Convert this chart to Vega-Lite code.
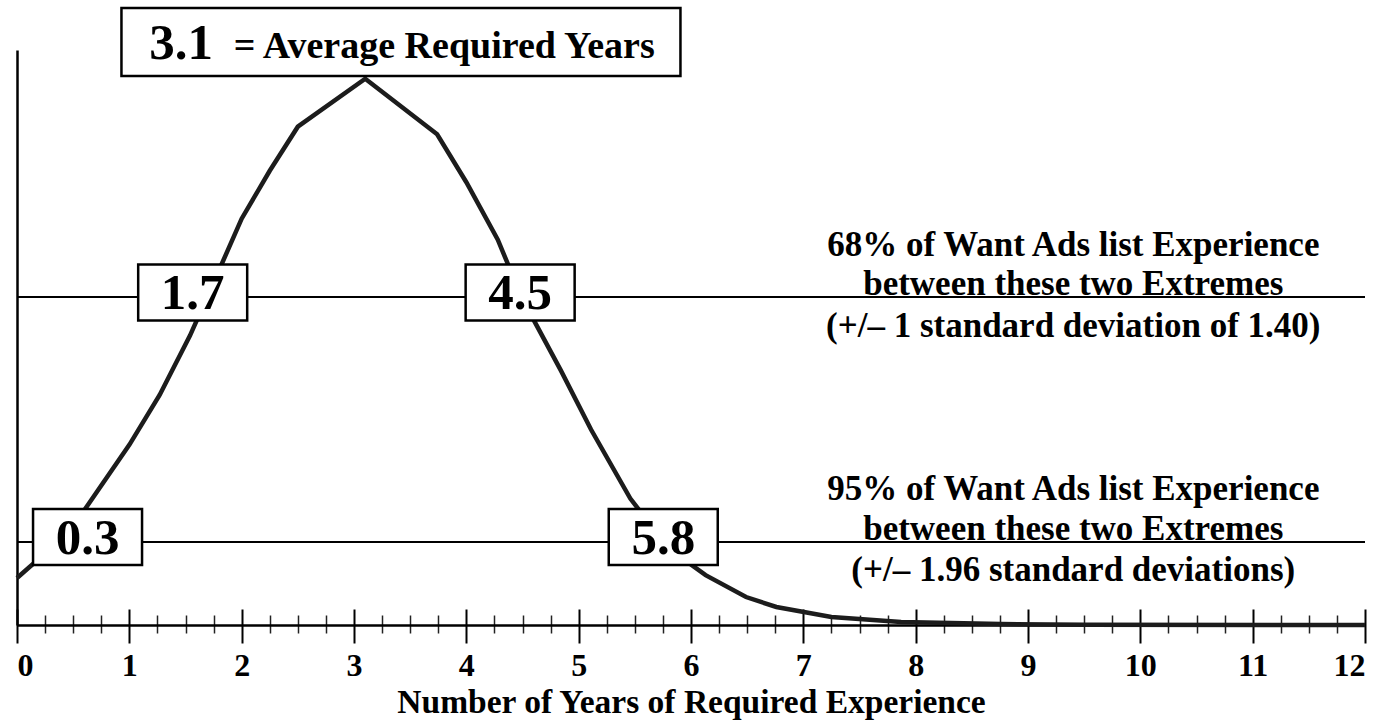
{
  "$schema": "https://vega.github.io/schema/vega-lite/v6.json",
  "width": 1348,
  "height": 575,
  "autosize": {"type": "none"},
  "padding": {"left": 17, "top": 50, "right": 33, "bottom": 96},
  "background": "white",
  "config": {
    "view": {"stroke": null},
    "font": "Liberation Serif",
    "axis": {"grid": false}
  },
  "datasets": {
    "curve": [
      {"years": 0, "density": 0.0245},
      {"years": 0.3, "density": 0.040},
      {"years": 0.6, "density": 0.060},
      {"years": 1.0, "density": 0.094},
      {"years": 1.27, "density": 0.120},
      {"years": 1.54, "density": 0.151},
      {"years": 1.76, "density": 0.180},
      {"years": 2.0, "density": 0.212},
      {"years": 2.25, "density": 0.237},
      {"years": 2.5, "density": 0.260},
      {"years": 3.1, "density": 0.285},
      {"years": 3.74, "density": 0.256},
      {"years": 4.0, "density": 0.231},
      {"years": 4.28, "density": 0.201},
      {"years": 4.5, "density": 0.170},
      {"years": 4.84, "density": 0.133},
      {"years": 5.11, "density": 0.102},
      {"years": 5.46, "density": 0.066},
      {"years": 5.8, "density": 0.040},
      {"years": 6.13, "density": 0.026},
      {"years": 6.49, "density": 0.0146},
      {"years": 6.76, "density": 0.0094},
      {"years": 7.25, "density": 0.0042},
      {"years": 7.87, "density": 0.0016},
      {"years": 8.76, "density": 0.0005},
      {"years": 9.5, "density": 0.0001},
      {"years": 12, "density": 0}
    ],
    "levels": [
      {"band": "68%", "level": 0.1711},
      {"band": "95%", "level": 0.0433}
    ],
    "boxes": [
      {"label": "1.7", "bx": 1.564, "by": 0.1735},
      {"label": "4.5", "bx": 4.479, "by": 0.1735},
      {"label": "0.3", "bx": 0.628, "by": 0.0459},
      {"label": "5.8", "bx": 5.753, "by": 0.0459}
    ],
    "topbox": [{"bx": 3.418, "by": 0.3042}],
    "mean": [{"text": "3.1", "tx": 1.462, "ty": 0.2953}],
    "meanlabel": [{"text": "= Average Required Years", "tx": 1.93, "ty": 0.2956}],
    "notes": [
      {"line": "68% of Want Ads list Experience", "nx": 9.403, "ny": 0.19278},
      {"line": "between these two Extremes", "nx": 9.403, "ny": 0.17217},
      {"line": "(+/– 1 standard deviation of  1.40)", "nx": 9.403, "ny": 0.15026},
      {"line": "95% of Want Ads list Experience", "nx": 9.403, "ny": 0.06496},
      {"line": "between these two Extremes", "nx": 9.403, "ny": 0.04435},
      {"line": "(+/– 1.96 standard deviations)", "nx": 9.403, "ny": 0.02296}
    ]
  },
  "resolve": {"axis": {"x": "independent", "y": "independent"}},
  "layer": [
    {
      "data": {"name": "levels"},
      "mark": {"type": "rule", "color": "black", "strokeWidth": 2},
      "encoding": {
        "y": {
          "field": "level", "type": "quantitative",
          "scale": {"domain": [0, 0.3], "nice": false, "zero": false},
          "axis": {"orient": "left", "domain": true, "domainColor": "black", "domainWidth": 2.5, "ticks": false, "labels": false, "title": null, "grid": false}
        }
      }
    },
    {
      "data": {"name": "curve"},
      "mark": {"type": "line", "color": "#1c1c1c", "strokeWidth": 4.5, "strokeJoin": "miter"},
      "encoding": {
        "x": {
          "field": "years", "type": "quantitative",
          "scale": {"domain": [0, 12], "nice": false, "zero": false},
          "axis": {
            "orient": "bottom", "offset": -16, "domain": false,
            "values": [0, 1, 2, 3, 4, 5, 6, 7, 8, 9, 10, 11, 12],
            "tickSize": 34, "tickWidth": 2, "tickColor": "black",
            "labelFont": "Liberation Serif", "labelFontSize": 32, "labelFontWeight": "bold", "labelColor": "black",
            "labelBaseline": "alphabetic", "labelPadding": 32, "labelOverlap": false,
            "title": "Number of Years of Required Experience",
            "titleFont": "Liberation Serif", "titleFontSize": 33.5, "titleFontWeight": "bold", "titleColor": "black",
            "titleBaseline": "alphabetic", "titleY": 103, "grid": false
          }
        },
        "y": {"field": "density", "type": "quantitative", "scale": {"domain": [0, 0.3], "nice": false, "zero": false}, "axis": null}
      }
    },
    {
      "data": {"name": "boxes"},
      "mark": {"type": "point", "shape": "M-1,-0.5138H1V0.5138H-1Z", "size": 11881, "filled": true, "fill": "white", "stroke": "black", "strokeWidth": 2.5, "opacity": 1, "fillOpacity": 1},
      "encoding": {
        "x": {
          "field": "bx", "type": "quantitative",
          "scale": {"domain": [0, 12], "nice": false, "zero": false},
          "axis": {
            "orient": "bottom", "offset": -10, "domain": false,
            "values": [0.25, 0.5, 0.75, 1.25, 1.5, 1.75, 2.25, 2.5, 2.75, 3.25, 3.5, 3.75, 4.25, 4.5, 4.75, 5.25, 5.5, 5.75, 6.25, 6.5, 6.75, 7.25, 7.5, 7.75, 8.25, 8.5, 8.75, 9.25, 9.5, 9.75, 10.25, 10.5, 10.75, 11.25, 11.5, 11.75],
            "tickSize": 18, "tickWidth": 1.5, "tickColor": "#222", "labels": false, "title": null, "grid": false
          }
        },
        "y": {"field": "by", "type": "quantitative", "scale": {"domain": [0, 0.3], "nice": false, "zero": false}, "axis": null}
      }
    },
    {
      "data": {"name": "boxes"},
      "mark": {"type": "text", "font": "Liberation Serif", "fontSize": 51, "fontWeight": "bold", "color": "black", "align": "center", "baseline": "alphabetic", "dy": 17},
      "encoding": {
        "x": {"field": "bx", "type": "quantitative", "scale": {"domain": [0, 12], "nice": false, "zero": false}, "axis": null},
        "y": {"field": "by", "type": "quantitative", "scale": {"domain": [0, 0.3], "nice": false, "zero": false}, "axis": null},
        "text": {"field": "label", "type": "nominal"}
      }
    },
    {
      "data": {"name": "topbox"},
      "mark": {"type": "point", "shape": "M-1,-0.1216H1V0.1216H-1Z", "size": 312481, "filled": true, "fill": "white", "stroke": "black", "strokeWidth": 2.5, "opacity": 1, "fillOpacity": 1},
      "encoding": {
        "x": {"field": "bx", "type": "quantitative", "scale": {"domain": [0, 12], "nice": false, "zero": false}, "axis": null},
        "y": {"field": "by", "type": "quantitative", "scale": {"domain": [0, 0.3], "nice": false, "zero": false}, "axis": null}
      }
    },
    {
      "data": {"name": "mean"},
      "mark": {"type": "text", "font": "Liberation Serif", "fontSize": 51, "fontWeight": "bold", "color": "black", "align": "center", "baseline": "alphabetic"},
      "encoding": {
        "x": {"field": "tx", "type": "quantitative", "scale": {"domain": [0, 12], "nice": false, "zero": false}, "axis": null},
        "y": {"field": "ty", "type": "quantitative", "scale": {"domain": [0, 0.3], "nice": false, "zero": false}, "axis": null},
        "text": {"field": "text", "type": "nominal"}
      }
    },
    {
      "data": {"name": "meanlabel"},
      "mark": {"type": "text", "font": "Liberation Serif", "fontSize": 38, "fontWeight": "bold", "color": "black", "align": "left", "baseline": "alphabetic"},
      "encoding": {
        "x": {"field": "tx", "type": "quantitative", "scale": {"domain": [0, 12], "nice": false, "zero": false}, "axis": null},
        "y": {"field": "ty", "type": "quantitative", "scale": {"domain": [0, 0.3], "nice": false, "zero": false}, "axis": null},
        "text": {"field": "text", "type": "nominal"}
      }
    },
    {
      "data": {"name": "notes"},
      "mark": {"type": "text", "font": "Liberation Serif", "fontSize": 35, "fontWeight": "bold", "color": "black", "align": "center", "baseline": "alphabetic"},
      "encoding": {
        "x": {
          "field": "nx", "type": "quantitative",
          "scale": {"domain": [0, 12], "nice": false, "zero": false},
          "axis": {"orient": "bottom", "domain": true, "domainColor": "black", "domainWidth": 2.5, "ticks": false, "labels": false, "title": null, "grid": false}
        },
        "y": {"field": "ny", "type": "quantitative", "scale": {"domain": [0, 0.3], "nice": false, "zero": false}, "axis": null},
        "text": {"field": "line", "type": "nominal"}
      }
    }
  ]
}
